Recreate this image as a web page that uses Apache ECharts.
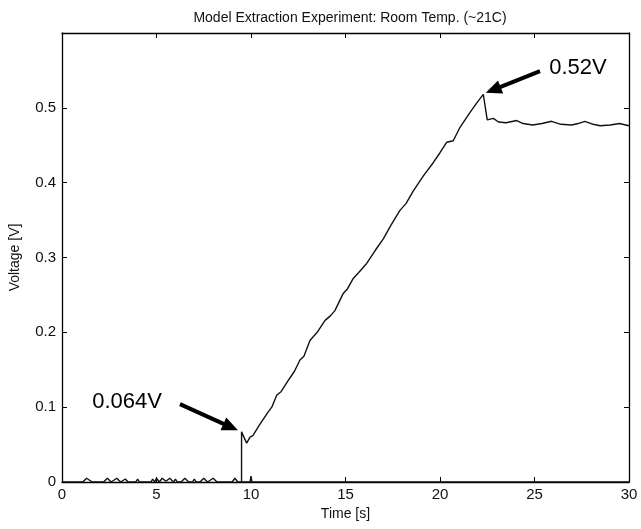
<!DOCTYPE html>
<html><head><meta charset="utf-8">
<script src="https://cdn.jsdelivr.net/npm/echarts@6/dist/echarts.min.js"></script>
<style>html,body{margin:0;padding:0;background:#fff}#c{width:641px;height:529px}</style>
</head><body><div id="c"></div>
<script>
// Main voltage trace (time in s, voltage in V)
const timeMain = [0,1.1,1.3,1.6,2.2,2.4,2.6,2.7,2.9,3.1,3.2,3.35,3.5,3.9,4.0,4.1,4.7,4.8,4.9,5.0,5.15,5.3,5.5,5.7,5.9,6.0,6.1,6.3,6.5,6.7,6.9,7.0,7.1,7.3,7.5,7.7,7.8,8.0,8.2,9.0,9.15,9.3,9.5,9.5,9.77,9.95,10.1,10.39,10.6,10.92,11.1,11.36,11.6,11.98,12.3,12.59,12.8,13.12,13.5,13.92,14.2,14.44,14.88,15.1,15.41,15.7,16.12,16.56,17.0,17.4,17.88,18.2,18.59,19.12,19.65,20.0,20.35,20.7,21.06,21.59,21.9,22.29,22.5,22.82,23.1,23.5,24.06,24.4,24.9,25.4,25.9,26.4,26.97,27.3,27.67,28.1,28.47,29.0,29.5,30];
const voltMain = [0,0,0.005,0,0,0.005,0,0,0.005,0,0,0.004,0,0,0.004,0,0,0.004,0,0.005,0,0.005,0.001,0.005,0,0.004,0,0,0.005,0,0,0.004,0,0,0.005,0,0,0.005,0,0,0.005,0,0,0.067,0.052,0.06,0.062,0.074,0.082,0.094,0.1,0.116,0.121,0.136,0.148,0.163,0.168,0.189,0.2,0.216,0.222,0.229,0.252,0.258,0.272,0.28,0.292,0.309,0.325,0.343,0.363,0.372,0.389,0.409,0.427,0.44,0.454,0.456,0.474,0.494,0.505,0.518,0.484,0.486,0.481,0.48,0.483,0.479,0.477,0.479,0.482,0.478,0.477,0.479,0.482,0.478,0.476,0.477,0.479,0.476];
// Zero-level trace after the step
const timeBase = [9.5,9.95,10.0,10.05,30];
const voltBase = [0,0,0.008,0,0];

// Axis ticks
const xTicks = [0,5,10,15,20,25,30];
const yTicks = [0,0.1,0.2,0.3,0.4,0.5];

// Annotations
const annLabels = ['0.064V','0.52V'];
const annText = [[3.44,0.107],[27.3,0.553]];
const annFrom = [[6.24,0.104],[25.29,0.549]];
const annTo = [[9.31,0.069],[22.42,0.520]];

const chart = echarts.init(document.getElementById('c'), null, {renderer:'canvas'});
const font = 'Liberation Sans, Arial, Helvetica, sans-serif';
const axisCommon = {
  axisLine:{show:true, onZero:false, lineStyle:{color:'#000', width:1.3}},
  axisTick:{show:true, inside:true, length:5, lineStyle:{color:'#000', width:1}},
  splitLine:{show:false}
};
chart.setOption({
  animation:false,
  backgroundColor:'#fff',
  title:{text:'Model Extraction Experiment: Room Temp. (~21C)', left:345, textAlign:'center', top:6,
    textStyle:{fontFamily:font, fontSize:14, fontWeight:'normal', color:'#111'}},
  grid:{left:62, right:12, top:33, bottom:47},
  xAxis:[
    Object.assign({type:'value', min:xTicks[0], max:xTicks[xTicks.length-1], interval:5, position:'bottom',
      name:'Time [s]', nameLocation:'middle', nameGap:24,
      nameTextStyle:{fontFamily:font, fontSize:14, color:'#111'},
      axisLabel:{fontFamily:font, fontSize:15, color:'#111', margin:5}}, axisCommon),
    Object.assign({type:'value', min:xTicks[0], max:xTicks[xTicks.length-1], interval:5, position:'top',
      axisLabel:{show:false}}, axisCommon)
  ],
  yAxis:[
    Object.assign({type:'value', min:0, max:0.6, interval:0.1, position:'left',
      name:'Voltage [V]', nameLocation:'middle', nameGap:40,
      nameTextStyle:{fontFamily:font, fontSize:14, color:'#111'},
      axisLabel:{fontFamily:font, fontSize:15, color:'#111', margin:6,
        formatter:v=>{const r=Math.round(v*10)/10; return yTicks.some(t=>Math.abs(t-r)<1e-9)?String(r):'';}}}, axisCommon),
    Object.assign({type:'value', min:0, max:0.6, interval:0.1, position:'right',
      axisLabel:{show:false}}, axisCommon)
  ],
  series:[
    {type:'line', xAxisIndex:0, yAxisIndex:0, showSymbol:false, symbol:'none',
      lineStyle:{color:'#111', width:1.4},
      data: timeMain.map((t,i)=>[t, voltMain[i]]),
      markPoint:{silent:true, symbol:'circle', symbolSize:1, itemStyle:{color:'rgba(0,0,0,0)'},
        label:{show:true, position:'inside', fontFamily:font, fontSize:22, color:'#000',
          formatter:p=>p.name},
        data: annLabels.map((l,i)=>({name:l, coord:annText[i]}))}
    },
    {type:'line', xAxisIndex:0, yAxisIndex:0, showSymbol:false, symbol:'none',
      lineStyle:{color:'#111', width:1.4},
      data: timeBase.map((t,i)=>[t, voltBase[i]])},
    {type:'custom', xAxisIndex:0, yAxisIndex:0, silent:true, z:10,
      data: annFrom.map((f,i)=>[f[0],f[1],annTo[i][0],annTo[i][1]]),
      renderItem:(params, api)=>{
        const p0 = api.coord([api.value(0), api.value(1)]);
        const p1 = api.coord([api.value(2), api.value(3)]);
        const dx = p1[0]-p0[0], dy = p1[1]-p0[1];
        const L = Math.sqrt(dx*dx+dy*dy), ux = dx/L, uy = dy/L;
        const hl = 16, hw = 7;
        const bx = p1[0]-ux*hl, by = p1[1]-uy*hl;
        return {type:'group', children:[
          {type:'line', shape:{x1:p0[0], y1:p0[1], x2:bx+ux*2, y2:by+uy*2},
            style:{stroke:'#000', lineWidth:4}},
          {type:'polygon', shape:{points:[[p1[0],p1[1]],[bx-uy*hw, by+ux*hw],[bx+uy*hw, by-ux*hw]]},
            style:{fill:'#000'}}
        ]};
      }}
  ]
});
</script></body></html>
